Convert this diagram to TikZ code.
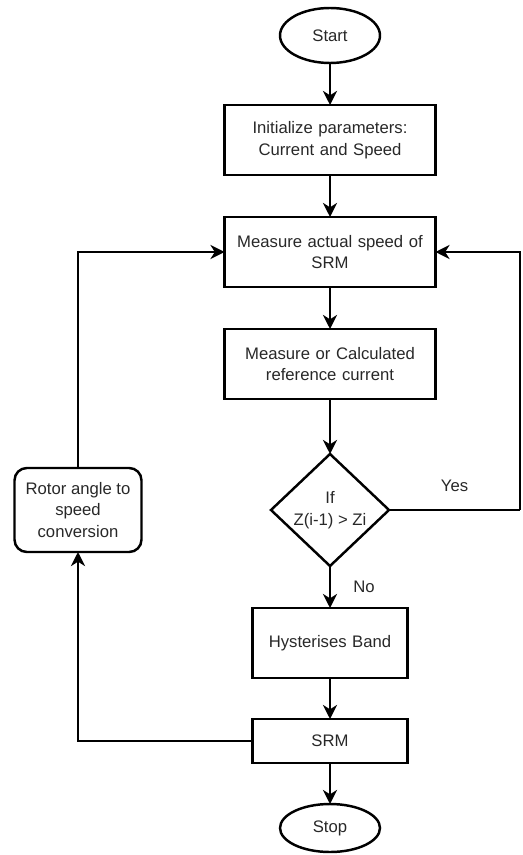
\documentclass[tikz,border=0pt]{standalone}
\usepackage{fontspec}
\setmainfont{Liberation Sans}
\usetikzlibrary{arrows.meta,positioning,shapes.geometric}
\definecolor{inkgray}{RGB}{40,40,40}

\begin{document}
\begin{tikzpicture}[node distance=0.84cm, line width=1.4pt,
    every node/.style={font=\fontsize{9.5}{12.2}\selectfont, text=inkgray, outer sep=0pt},
    proc/.style={draw, rectangle, minimum width=4.22cm, minimum height=1.4cm, text width=4cm, align=center, inner sep=0pt},
    term/.style={draw, ellipse, minimum width=2cm, minimum height=1.1cm, inner sep=0pt},
    decision/.style={draw, diamond, minimum width=2.36cm, minimum height=2.24cm, inner sep=0pt, align=center},
    arr/.style={-{Stealth[length=8pt, width=8pt, inset=2.5pt]}}]
        \useasboundingbox (0,0) rectangle (10.44,-17.1);
        \node[term] (start) at (6.6,-0.71) {Start};
        \node[proc, below=of start] (init) {Initialize parameters:\\Current and Speed};
        \node[proc, below=of init] (speed) {Measure actual speed of\\SRM};
        \node[proc, below=of speed] (refcur) {Measure or Calculated\\reference current};
        \node[decision, below=1.1cm of refcur] (cond) {If\\Z(i-1) > Zi};
        \node[proc, below=of cond, minimum width=3.1cm, text width=3cm] (band) {Hysterises Band};
        \node[proc, below=0.82cm of band, minimum width=3.1cm, minimum height=0.88cm, text width=3cm] (srm) {SRM};
        \node[term, below=0.82cm of srm, minimum height=0.96cm] (stop) {Stop};
        \node[draw, rounded corners=7pt, minimum width=2.54cm, minimum height=1.68cm, align=center, inner sep=0pt] (rotor) at (1.56,-10.2) {Rotor angle to\\speed\\conversion};
        \draw[arr] (start) -- (init);
        \draw[arr] (init) -- (speed);
        \draw[arr] (speed) -- (refcur);
        \draw[arr] (refcur) -- (cond);
        \draw[arr] (cond) -- node[right=10pt] {No} (band);
        \draw[arr] (band) -- (srm);
        \draw[arr] (srm) -- (stop);
        \draw (cond.east) -- node[above=7pt] {Yes} ++(2.62,0) coordinate (yesend);
        \draw[arr] (yesend) -- (yesend |- speed.east) -- (speed.east);
        \draw[arr] (srm.west) -| (rotor.south);
        \draw[arr] (rotor.north) |- (speed.west);
      \end{tikzpicture}
\end{document}
